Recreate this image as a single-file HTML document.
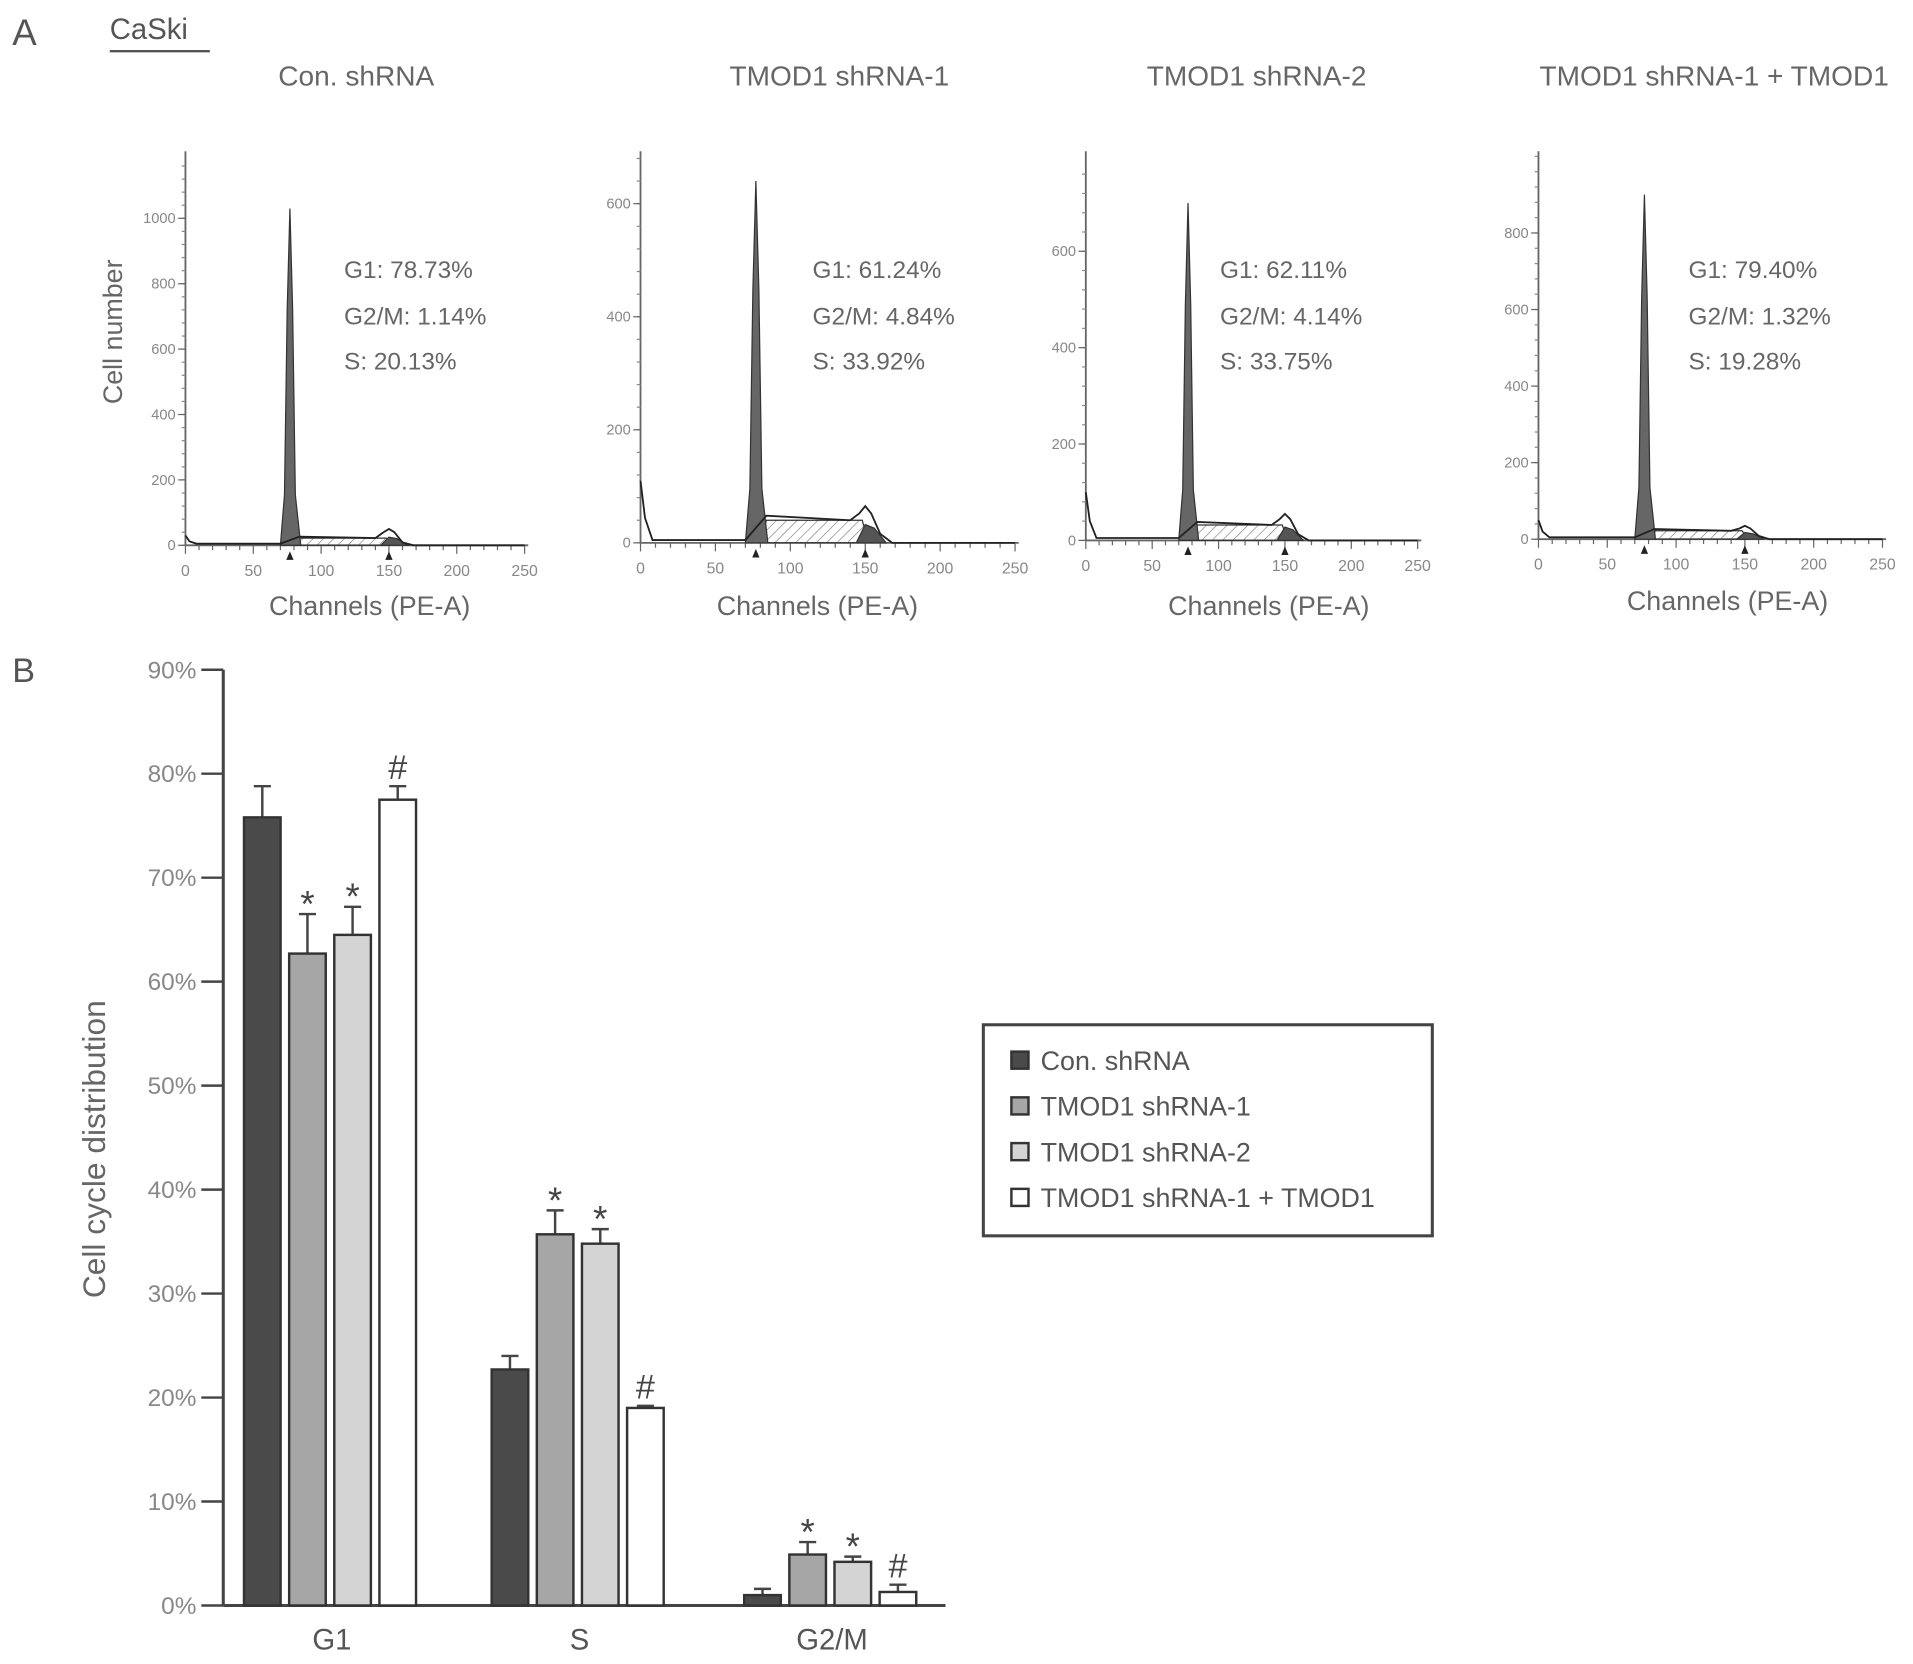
<!DOCTYPE html>
<html><head><meta charset="utf-8"><style>
html,body{margin:0;padding:0;background:#fff;}
svg{display:block;font-family:"Liberation Sans",sans-serif;}
</style></head><body>
<svg id="fig" width="1913" height="1664" viewBox="0 0 1568 1360">
<defs>
<pattern id="hatch" width="6" height="6" patternUnits="userSpaceOnUse" patternTransform="rotate(45)">
<line x1="0" y1="0" x2="0" y2="6" stroke="#777" stroke-width="1"/></pattern>
</defs>
<text x="10" y="35" font-size="30" fill="#555">A</text>
<text x="90" y="30" font-size="24" fill="#555">CaSki</text>
<line x1="90" y1="40" x2="172" y2="40" stroke="#555" stroke-width="2"/>
<text x="10" y="557" font-size="28" fill="#555">B</text>
<g id="hists"></g>
<g id="bars"></g>
</svg>
<script>
// ---------- Panel A histogram data ----------
const histTitles = ["Con. shRNA","TMOD1 shRNA-1","TMOD1 shRNA-2","TMOD1 shRNA-1 + TMOD1"];
const histG1 = ["G1: 78.73%","G1: 61.24%","G1: 62.11%","G1: 79.40%"];
const histG2 = ["G2/M: 1.14%","G2/M: 4.84%","G2/M: 4.14%","G2/M: 1.32%"];
const histS = ["S: 20.13%","S: 33.92%","S: 33.75%","S: 19.28%"];
const histYTicks = [[0,200,400,600,800,1000],[0,200,400,600],[0,200,400,600],[0,200,400,600,800]];
const histPeak = [1030, 640, 700, 900];
const histSLevel = [22, 40, 32, 22];
const histG2Peak = [50, 65, 55, 35];
const histDebris = [30, 110, 100, 50];
const xTicks = [0,50,100,150,200,250];
// layout (display coords)
const hx0=[152,525,890,1261], hx1=[430,832,1162,1543], hy0=[445,443,441,440], hyTop=[177,165,204,189], hyTopVal=[1000,600,600,800];
const titleX=[292,688,1030,1405], chanX=[303,670,1040,1416], chanY=[495,495,495,491], annX=[282,666,1000,1384];

const NS="http://www.w3.org/2000/svg";
function mk(parent,tag,attrs,text){const e=document.createElementNS(NS,tag);for(const k in attrs)e.setAttribute(k,attrs[k]);if(text!==undefined)e.textContent=text;parent.appendChild(e);return e;}
const H=document.getElementById('hists');
for(let i=0;i<4;i++){
  const g=mk(H,'g',{});
  
  
  const sx=c=>hx0[i]+(hx1[i]-hx0[i])*c/250;
  const sy=v=>hy0[i]-(hy0[i]-hyTop[i])*v/hyTopVal[i];
  const t=mk(g,'text',{x:titleX[i],y:68,'font-size':23,fill:'#666','text-anchor':'middle'},histTitles[i]);
  
  
  mk(g,'line',{x1:hx0[i],y1:122,x2:hx0[i],y2:hy0[i],stroke:'#666','stroke-width':1.5});
  mk(g,'line',{x1:hx0[i],y1:hy0[i],x2:hx1[i]+3,y2:hy0[i],stroke:'#666','stroke-width':1.5});
  for(let y=hy0[i];y>125;y-=(hy0[i]-hyTop[i])/hyTopVal[i]*40) mk(g,'line',{x1:hx0[i]-3,y1:y,x2:hx0[i],y2:y,stroke:'#888','stroke-width':1});
  histYTicks[i].forEach(v=>{mk(g,'line',{x1:hx0[i]-6,y1:sy(v),x2:hx0[i],y2:sy(v),stroke:'#666'});
    const l=mk(g,'text',{x:hx0[i]-8,y:sy(v)+4,'font-size':12,fill:'#888','text-anchor':'end'},v);
    
    });
  for(let c=0;c<=250;c+=10) mk(g,'line',{x1:sx(c),y1:hy0[i],x2:sx(c),y2:hy0[i]+(c%50?4:7),stroke:'#666'});
  xTicks.forEach(c=>{const l=mk(g,'text',{x:sx(c),y:hy0[i]+25,'font-size':13,fill:'#888','text-anchor':'middle'},c);
    
    });
  const sl=histSLevel[i];
  mk(g,'path',{d:`M${sx(80)},${sy(0)} L${sx(84)},${sy(sl)} L${sx(148)},${sy(sl)} L${sx(152)},${sy(0)} Z`,fill:'url(#hatch)',stroke:'#333','stroke-width':1});
  const p=histPeak[i];
  const g1=mk(g,'path',{d:`M${sx(70)},${sy(0)} L${sx(73)},${sy(p*0.15)} L${sx(75)},${sy(p*0.7)} L${sx(77)},${sy(p)} L${sx(79)},${sy(p*0.7)} L${sx(81)},${sy(p*0.15)} L${sx(85)},${sy(0)} Z`,fill:'#666',stroke:'#333','stroke-width':1});
  
  
  const q=histG2Peak[i];
  mk(g,'path',{d:`M${sx(144)},${sy(0)} L${sx(150)},${sy(q*0.5)} L${sx(156)},${sy(q*0.4)} L${sx(164)},${sy(0)} Z`,fill:'#555',stroke:'#333'});
  const d=histDebris[i];
  mk(g,'path',{d:`M${sx(0)},${sy(d)} L${sx(3)},${sy(d*0.4)} L${sx(8)},${sy(5)} L${sx(70)},${sy(5)} L${sx(84)},${sy(sl*1.2)} L${sx(140)},${sy(sl)} L${sx(146)},${sy(q*0.8)} L${sx(150)},${sy(q)} L${sx(154)},${sy(q*0.8)} L${sx(160)},${sy(sl*0.4)} L${sx(168)},${sy(0)} L${sx(250)},${sy(0)}`,fill:'none',stroke:'#222','stroke-width':1.5});
  [77,150].forEach(c=>mk(g,'path',{d:`M${sx(c)-3},${hy0[i]+12} L${sx(c)},${hy0[i]+5} L${sx(c)+3},${hy0[i]+12} Z`,fill:'#222'}));
  [[histG1[i],219],[histG2[i],257],[histS[i],294]].forEach(([s,y])=>{const a=mk(g,'text',{x:annX[i],y:y+7,'font-size':20,fill:'#666'},s);
    
    });
  const ch=mk(g,'text',{x:chanX[i],y:chanY[i]+7,'font-size':22,fill:'#666','text-anchor':'middle'},'Channels (PE-A)');
  
  
}
const cn=mk(H,'text',{x:100,y:270,'font-size':22,fill:'#666','text-anchor':'middle',transform:'rotate(-90 100 270)'},'Cell number');



// ---------- Panel B bar chart data ----------
const categories = ["G1","S","G2/M"];
const seriesNames = ["Con. shRNA","TMOD1 shRNA-1","TMOD1 shRNA-2","TMOD1 shRNA-1 + TMOD1"];
const conVals = [75.8, 22.7, 1.0];
const sh1Vals = [62.7, 35.7, 4.9];
const sh2Vals = [64.5, 34.8, 4.2];
const rescueVals = [77.5, 19.0, 1.3];
const conErr = [3.0, 1.3, 0.6];
const sh1Err = [3.8, 2.3, 1.2];
const sh2Err = [2.7, 1.4, 0.5];
const rescueErr = [1.3, 0.2, 0.7];
const sigMarks = [["","*","*","#"],["","*","*","#"],["","*","*","#"]];
const yTickVals = [0,10,20,30,40,50,60,70,80,90];
const seriesVals=[conVals,sh1Vals,sh2Vals,rescueVals];
const seriesErr=[conErr,sh1Err,sh2Err,rescueErr];
const fills=['#4a4a4a','#a6a6a6','#d4d4d4','#ffffff'];
const B=document.getElementById('bars');
const X0=183,X1=775,Y0=1314,Y90=547;
const yS=v=>Y0-(Y0-Y90)*v/90;
const groupCenter=[272,475,682];
const xS=(gi,si)=>groupCenter[gi]-72+si*37;
const BW=30;
mk(B,'line',{x1:X0,y1:Y90,x2:X0,y2:Y0,stroke:'#444','stroke-width':2.5});
mk(B,'line',{x1:X0,y1:Y0,x2:X1,y2:Y0,stroke:'#444','stroke-width':2.5});
yTickVals.forEach(v=>{mk(B,'line',{x1:X0-18,y1:yS(v),x2:X0,y2:yS(v),stroke:'#444','stroke-width':2});
  const l=mk(B,'text',{x:X0-22,y:yS(v)+7,'font-size':20,fill:'#888','text-anchor':'end'},v+'%');
  
  });
categories.forEach((c,gi)=>{const l=mk(B,'text',{x:groupCenter[gi],y:1350,'font-size':24,fill:'#555','text-anchor':'middle'},c);
  
  
  seriesVals.forEach((vals,si)=>{
    const x=xS(gi,si),v=vals[gi],e=seriesErr[si][gi];
    mk(B,'line',{x1:x+BW/2,y1:yS(v),x2:x+BW/2,y2:yS(v+e),stroke:'#444','stroke-width':2});
    mk(B,'line',{x1:x+BW/2-7,y1:yS(v+e),x2:x+BW/2+7,y2:yS(v+e),stroke:'#444','stroke-width':2});
    const r=mk(B,'rect',{x:x,y:yS(v),width:BW,height:Y0-yS(v),fill:fills[si],stroke:'#333','stroke-width':2});
    
    
    const m=sigMarks[gi][si];
    if(m){const t=mk(B,'text',{x:x+BW/2,y:yS(v+e)-(m=='*'?-2:6),'font-size':m=='*'?30:28,fill:'#444','text-anchor':'middle'},m);
      
      }
  });
});
const yt=mk(B,'text',{x:86,y:940,'font-size':26,fill:'#666','text-anchor':'middle',transform:'rotate(-90 86 940)'},'Cell cycle distribution');


const lg=mk(B,'g',{});


mk(lg,'rect',{x:806,y:838,width:368,height:173,fill:'#fff',stroke:'#444','stroke-width':2.5});
seriesNames.forEach((n,si)=>{const y=867+si*37.5;
  const e=mk(lg,'g',{});
  
  
  mk(e,'rect',{x:829,y:y-7,width:14,height:14,fill:fills[si],stroke:'#333','stroke-width':2});
  mk(e,'text',{x:853,y:y+8,'font-size':22,fill:'#555'},n);});
</script>
</body></html>
